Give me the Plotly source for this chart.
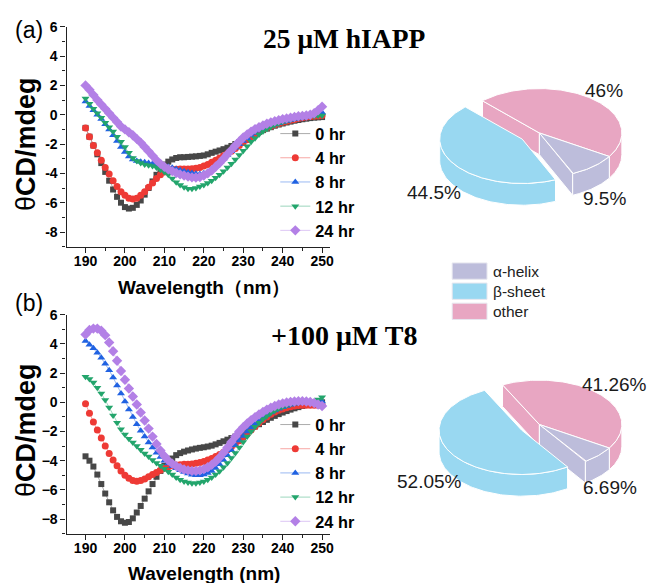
import numpy as np
import plotly.graph_objects as go

W, H = 653, 583
SANS = "Liberation Sans, Arial, sans-serif"
SERIF = "Liberation Serif, Times New Roman, serif"

# ---------------- data ----------------
wavelength_nm = list(range(190, 251))
time_labels = ["0 hr", "4 hr", "8 hr", "12 hr", "24 hr"]

# (a) 25 uM hIAPP, CD signal (mdeg), 190-250 nm in 1 nm steps
a_0hr = [-0.9, -1.5, -2.1, -2.7, -3.3, -3.9, -4.5, -5.1, -5.6, -6.0,
         -6.3, -6.4, -6.35, -6.15, -5.85, -5.45, -5.0, -4.55, -4.1, -3.7,
         -3.4, -3.2, -3.05, -2.95, -2.9, -2.9, -2.88, -2.86, -2.84, -2.81,
         -2.78, -2.7, -2.6, -2.52, -2.44, -2.35, -2.25, -2.13, -2.0, -1.87,
         -1.72, -1.57, -1.43, -1.3, -1.17, -1.05, -0.95, -0.85, -0.75, -0.67,
         -0.6, -0.53, -0.47, -0.41, -0.36, -0.31, -0.27, -0.23, -0.2, -0.18, -0.16]
a_4hr = [-0.9, -1.5, -2.1, -2.6, -3.1, -3.6, -4.05, -4.5, -4.9, -5.25,
         -5.5, -5.7, -5.75, -5.7, -5.5, -5.25, -4.95, -4.65, -4.35, -4.1,
         -3.9, -3.8, -3.75, -3.72, -3.7, -3.7, -3.7, -3.68, -3.65, -3.6,
         -3.5, -3.4, -3.25, -3.1, -2.95, -2.8, -2.65, -2.5, -2.3, -2.1,
         -1.9, -1.7, -1.5, -1.32, -1.15, -1.0, -0.88, -0.78, -0.68, -0.6,
         -0.52, -0.45, -0.38, -0.32, -0.26, -0.2, -0.16, -0.12, -0.1, -0.08, -0.05]
a_8hr = [0.9, 0.6, 0.3, 0.0, -0.3, -0.65, -1.0, -1.4, -1.8, -2.2,
         -2.55, -2.85, -3.05, -3.15, -3.2, -3.25, -3.3, -3.35, -3.4, -3.45,
         -3.5, -3.55, -3.62, -3.7, -3.78, -3.85, -3.92, -3.98, -4.02, -4.05,
         -4.0, -3.9, -3.72, -3.5, -3.25, -3.0, -2.75, -2.5, -2.25, -2.02,
         -1.8, -1.6, -1.42, -1.25, -1.1, -0.97, -0.85, -0.75, -0.66, -0.58,
         -0.5, -0.43, -0.36, -0.3, -0.25, -0.2, -0.15, -0.1, -0.05, 0.05, 0.15]
a_12hr = [1.1, 0.75, 0.4, 0.1, -0.2, -0.55, -0.85, -1.15, -1.5, -1.85,
          -2.2, -2.6, -2.95, -3.15, -3.3, -3.4, -3.45, -3.5, -3.6, -3.75,
          -3.9, -4.1, -4.35, -4.6, -4.8, -4.95, -5.05, -5.05, -5.0, -4.9,
          -4.8, -4.65, -4.5, -4.3, -4.1, -3.85, -3.6, -3.35, -3.05, -2.75,
          -2.45, -2.15, -1.85, -1.6, -1.35, -1.15, -0.98, -0.83, -0.7, -0.6,
          -0.5, -0.42, -0.35, -0.28, -0.22, -0.17, -0.13, -0.1, -0.08, -0.06, -0.05]
a_24hr = [2.0, 1.7, 1.35, 1.0, 0.7, 0.4, 0.1, -0.2, -0.5, -0.8,
          -1.0, -1.2, -1.4, -1.65, -1.9, -2.2, -2.5, -2.8, -3.1, -3.35,
          -3.55, -3.72, -3.85, -3.97, -4.07, -4.15, -4.22, -4.27, -4.28, -4.25,
          -4.15, -4.0, -3.8, -3.55, -3.3, -3.0, -2.7, -2.4, -2.1, -1.82,
          -1.55, -1.35, -1.15, -0.98, -0.85, -0.73, -0.62, -0.52, -0.44, -0.37,
          -0.3, -0.25, -0.2, -0.15, -0.1, -0.08, -0.05, 0.0, 0.1, 0.3, 0.55]

# (b) +100 uM T8
b_0hr = [-3.7, -4.0, -4.4, -4.95, -5.6, -6.25, -6.85, -7.4, -7.85, -8.15,
         -8.25, -8.2, -7.95, -7.55, -7.1, -6.6, -6.1, -5.6, -5.1, -4.7,
         -4.35, -4.05, -3.85, -3.62, -3.48, -3.38, -3.3, -3.23, -3.17, -3.12,
         -3.08, -3.03, -2.97, -2.88, -2.78, -2.67, -2.56, -2.45, -2.35, -2.22,
         -2.08, -1.94, -1.8, -1.65, -1.5, -1.35, -1.2, -1.06, -0.93, -0.81,
         -0.7, -0.6, -0.5, -0.41, -0.33, -0.25, -0.18, -0.12, -0.07, -0.03, 0.0]
b_4hr = [-0.1, -0.75, -1.35, -1.9, -2.45, -3.0, -3.5, -3.95, -4.35, -4.7,
         -5.0, -5.2, -5.35, -5.4, -5.35, -5.25, -5.1, -4.95, -4.8, -4.65,
         -4.52, -4.42, -4.35, -4.3, -4.27, -4.25, -4.25, -4.22, -4.18, -4.12,
         -4.05, -3.95, -3.85, -3.72, -3.58, -3.42, -3.25, -3.05, -2.85, -2.63,
         -2.4, -2.15, -1.9, -1.65, -1.42, -1.2, -1.0, -0.82, -0.67, -0.55,
         -0.45, -0.37, -0.3, -0.25, -0.22, -0.2, -0.2, -0.2, -0.2, -0.2, -0.2]
b_8hr = [4.2, 3.95, 3.7, 3.4, 3.05, 2.65, 2.2, 1.7, 1.15, 0.6,
         0.05, -0.5, -1.0, -1.5, -1.95, -2.35, -2.75, -3.1, -3.45, -3.75,
         -4.0, -4.2, -4.38, -4.52, -4.65, -4.77, -4.88, -4.96, -5.0, -5.0,
         -4.95, -4.85, -4.7, -4.5, -4.25, -3.95, -3.62, -3.28, -2.95, -2.62,
         -2.3, -2.0, -1.72, -1.47, -1.25, -1.05, -0.87, -0.7, -0.56, -0.44,
         -0.34, -0.25, -0.17, -0.1, -0.05, -0.02, 0.0, 0.0, 0.0, 0.02, 0.05]
b_12hr = [1.75, 1.6, 1.35, 1.0, 0.6, 0.15, -0.35, -0.9, -1.4, -1.85,
          -2.2, -2.5, -2.75, -3.0, -3.25, -3.5, -3.72, -3.95, -4.15, -4.35,
          -4.55, -4.75, -4.95, -5.15, -5.3, -5.42, -5.5, -5.55, -5.55, -5.5,
          -5.42, -5.3, -5.15, -4.95, -4.72, -4.45, -4.15, -3.82, -3.47, -3.1,
          -2.72, -2.35, -2.0, -1.68, -1.4, -1.15, -0.93, -0.74, -0.57, -0.43,
          -0.31, -0.21, -0.13, -0.07, -0.03, 0.0, 0.0, 0.02, 0.08, 0.2, 0.35]
b_24hr = [4.65, 4.95, 5.05, 5.05, 4.9, 4.6, 4.1, 3.5, 2.85, 2.15,
          1.55, 0.95, 0.4, -0.15, -0.7, -1.25, -1.8, -2.35, -2.85, -3.3,
          -3.68, -3.98, -4.2, -4.37, -4.5, -4.6, -4.66, -4.7, -4.7, -4.66,
          -4.58, -4.45, -4.28, -4.05, -3.78, -3.45, -3.1, -2.72, -2.35, -2.0,
          -1.7, -1.45, -1.22, -1.02, -0.83, -0.66, -0.5, -0.37, -0.25, -0.15,
          -0.07, -0.01, 0.03, 0.06, 0.08, 0.08, 0.06, 0.02, -0.05, -0.15, -0.25]

# secondary-structure fractions (%)
structure_labels = ["α-helix", "β-sheet", "other"]
pie_a_pct = [9.5, 44.5, 46]
pie_b_pct = [6.69, 52.05, 41.26]

x_tick_vals = [190, 200, 210, 220, 230, 240, 250]
y_tick_vals = [-8, -6, -4, -2, 0, 2, 4, 6]
y_tick_text_a = ["-8", "-6", "-4", "-2", "0", "2", "4", "6"]
y_tick_text_b = ["\u22128", "\u22126", "\u22124", "\u22122", "0", "2", "4", "6"]

# ---------------- styles ----------------
series_colors = ["#474747", "#ee3a35", "#2062e2", "#23a56c", "#b380e6"]
line_colors = ["rgba(71,71,71,0.45)", "rgba(238,58,53,0.45)", "rgba(32,98,226,0.45)",
               "rgba(35,165,108,0.45)", "rgba(179,128,230,0.45)"]
series_symbols = ["square", "circle", "triangle-up", "triangle-down", "diamond"]
series_sizes = [6, 7, 7, 7, 8]
structure_colors = ["#BDBDDB", "#99D8F1", "#E8A6C2"]

fig = go.Figure()

panels = [
    ([a_0hr, a_4hr, a_8hr, a_12hr, a_24hr], "x", "y", "legend"),
    ([b_0hr, b_4hr, b_8hr, b_12hr, b_24hr], "x2", "y2", "legend2"),
]
for series, xa, ya, lg in panels:
    for i, vals in enumerate(series):
        fig.add_trace(go.Scatter(
            x=wavelength_nm, y=vals, name=time_labels[i], mode="lines+markers",
            line=dict(color=line_colors[i], width=1),
            marker=dict(symbol=series_symbols[i], size=series_sizes[i],
                        color=series_colors[i], line=dict(width=0)),
            xaxis=xa, yaxis=ya, legend=lg, cliponaxis=False,
        ))

# ---------------- 3-D pies (drawn on a pixel-space overlay axis) ----------------
PIE_A, PIE_B = 83.0, 45.0     # ellipse semi-axes of the top face
PIE_DEPTH = 22.0              # slab thickness
PIE_START = -32.0             # angle where "other" begins (counter-clockwise)
PIE_PULL = 0.25               # explode fraction for the β-sheet wedge
pie_centres = [(542.7, 126.7), (542.7, 422.3)]


def wedge_polygons(t0, t1, cx, cy, pull):
    mid = np.radians((t0 + t1) / 2)
    ax_ = cx + PIE_A * pull * np.cos(mid)
    ay_ = cy - PIE_B * pull * np.sin(mid)

    def rim(ts, dz=0.0):
        r = np.radians(ts)
        return ax_ + PIE_A * np.cos(r), ay_ - PIE_B * np.sin(r) + dz

    polys = []
    # radial cut faces turned towards the viewer
    for t, shown in ((t0, np.cos(np.radians(t0)) > 0), (t1, np.cos(np.radians(t1)) < 0)):
        if shown:
            px, py = rim(np.array([t]))
            polys.append(([ax_, px[0], px[0], ax_, ax_],
                          [ay_, py[0], py[0] + PIE_DEPTH, ay_ + PIE_DEPTH, ay_]))
    # front half of the curved side wall
    for k in (-1, 0, 1):
        lo, hi = max(t0, 180 + 360 * k), min(t1, 360 + 360 * k)
        if hi > lo:
            ts = np.linspace(lo, hi, 80)
            xt, yt = rim(ts)
            xb, yb = rim(ts[::-1], PIE_DEPTH)
            polys.append((np.r_[xt, xb, xt[:1]], np.r_[yt, yb, yt[:1]]))
    # top face
    ts = np.linspace(t0, t1, 160)
    xt, yt = rim(ts)
    polys.append((np.r_[ax_, xt, ax_], np.r_[ay_, yt, ay_]))
    return polys


def add_pie(pcts, centre):
    helix, sheet, other = pcts
    spans = {
        2: (PIE_START, PIE_START + 3.6 * other),
        1: (PIE_START + 3.6 * other, PIE_START + 3.6 * (other + sheet)),
        0: (PIE_START + 3.6 * (other + sheet), PIE_START + 360.0),
    }
    pulls = [0.0, PIE_PULL, 0.0]
    for idx in (2, 0, 1):  # back to front
        t0, t1 = spans[idx]
        for xs, ys in wedge_polygons(t0, t1, centre[0], centre[1], pulls[idx]):
            fig.add_trace(go.Scatter(
                x=list(xs), y=list(ys), mode="lines", fill="toself",
                fillcolor=structure_colors[idx], line=dict(color="white", width=1),
                hoverinfo="skip", showlegend=False, xaxis="x3", yaxis="y3",
            ))


add_pie(pie_a_pct, pie_centres[0])
add_pie(pie_b_pct, pie_centres[1])

# ---------------- layout ----------------
def px_x(v):
    return v / W


def px_y(v):
    return 1 - v / H


axis_common = dict(
    ticks="outside", ticklen=5, tickwidth=1.3, tickcolor="#222",
    showline=True, linecolor="#222", linewidth=1.3,
    showgrid=False, zeroline=False,
    tickfont=dict(family=SANS, size=14, color="black", weight="bold"),
)
x_common = dict(axis_common, range=[185.2, 252], tickmode="array", tickvals=x_tick_vals,
                ticklabelstandoff=-4,
                minor=dict(tickmode="linear", tick0=190, dtick=5, ticks="outside",
                           ticklen=3, tickwidth=1, tickcolor="#222"))


def y_axis(texts, top_px, bottom_px, anchor):
    return dict(axis_common, range=[-9, 6], tickmode="array", tickvals=y_tick_vals,
                ticktext=texts, domain=[px_y(bottom_px), px_y(top_px)], anchor=anchor,
                minor=dict(tickmode="linear", tick0=0, dtick=1, ticks="outside",
                           ticklen=3, tickwidth=1, tickcolor="#222"))


legend_common = dict(xanchor="left", yanchor="top", bgcolor="rgba(0,0,0,0)",
                     font=dict(family=SANS, size=16.3, color="black", weight="bold"),
                     itemwidth=30, tracegroupgap=0)

annotations = []


def note(text, x, y, size, family=SANS, weight="normal", angle=0, xanchor="center", color="black"):
    annotations.append(dict(text=text, x=x, y=y, xref="x3", yref="y3", showarrow=False,
                            xanchor=xanchor, yanchor="middle", textangle=angle,
                            font=dict(family=family, size=size, color=color, weight=weight)))


note("(a)", 29, 22, 23)
note("(b)", 29, 299, 23)
note("25 μM hIAPP", 346, 31, 27.5, family=SERIF, weight="bold")
note("+100 μM T8", 346, 332, 28, family=SERIF, weight="bold")
note("θ<b>CD/mdeg</b>", 26, 138, 27, angle=-90)
note("θ<b>CD/mdeg</b>", 26, 428, 27, angle=-90)
note("Wavelength（nm）", 205, 283, 19, weight="bold")
note("Wavelength (nm)", 205, 573, 19, weight="bold")

# percentage labels for each wedge (label order follows structure_labels)
pie_label_xy = [
    [(608, 193), (437, 187), (608, 84)],
    [(614, 486), (432, 480), (618, 382)],
]
for pcts, spots in zip((pie_a_pct, pie_b_pct), pie_label_xy):
    for v, (lx, ly) in zip(pcts, spots):
        note(f"{v:g}%", lx, ly, 19, color="#1a1a1a")

# legend for the pie colours
shapes = []
SW_X, SW_Y, SW_W, SW_H, SW_STEP = 455, 258.5, 35, 16.5, 20.4
for i, lab in enumerate(structure_labels):
    y0 = SW_Y + i * SW_STEP
    shapes.append(dict(type="rect", xref="x3", yref="y3", x0=SW_X, x1=SW_X + SW_W,
                       y0=y0, y1=y0 + SW_H, fillcolor=structure_colors[i],
                       line=dict(color="#e6e6ee", width=1)))
    note(lab, SW_X + SW_W + 4, y0 + SW_H / 2, 15.5, xanchor="left", color="#222")

fig.update_layout(
    width=W, height=H, margin=dict(l=0, r=0, t=0, b=0),
    paper_bgcolor="white", plot_bgcolor="rgba(0,0,0,0)",
    xaxis=dict(x_common, domain=[px_x(67), px_x(332)], anchor="y"),
    yaxis=y_axis(y_tick_text_a, 19, 242, "x"),
    xaxis2=dict(x_common, domain=[px_x(67), px_x(332)], anchor="y2"),
    yaxis2=y_axis(y_tick_text_b, 311, 533, "x2"),
    xaxis3=dict(domain=[0, 1], range=[0, W], visible=False, fixedrange=True, anchor="y3"),
    yaxis3=dict(domain=[0, 1], range=[H, 0], visible=False, fixedrange=True, anchor="x3"),
    legend=dict(legend_common, x=px_x(277), y=px_y(110)),
    legend2=dict(legend_common, x=px_x(277), y=px_y(405)),
    showlegend=True,
    annotations=annotations,
    shapes=shapes,
)

fig.write_html("out.html")
